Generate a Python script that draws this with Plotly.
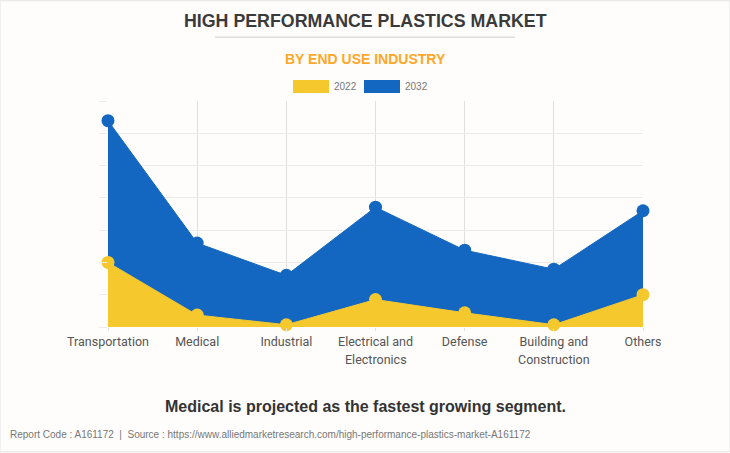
import plotly.graph_objects as go

categories = ["Transportation", "Medical", "Industrial", "Electrical and", "Defense", "Building and", "Others"]
second_lines = ["", "", "", "Electronics", "", "Construction", ""]
values_2022 = [2.0, 0.37, 0.07, 0.85, 0.44, 0.07, 1.0]
values_2032 = [6.39, 2.6, 1.6, 3.71, 2.38, 1.79, 3.6]

YELLOW = "#F5C82E"
BLUE = "#1467C0"
BG = "#FEFDFC"
W, H = 730, 453
LEFT, PLOT_W = 108, 535

fig = go.Figure()

# areas first, dots on top, 2022 sits above 2032
for name, vals, col in [("2032", values_2032, BLUE), ("2022", values_2022, YELLOW)]:
    fig.add_trace(go.Scatter(x=categories, y=vals, mode="lines", fill="tozeroy", fillcolor=col,
                             line=dict(color=col, width=1), showlegend=False, hoverinfo="skip"))
    fig.add_trace(go.Scatter(x=categories, y=vals, mode="markers", name=name, cliponaxis=False,
                             marker=dict(color=col, size=13), showlegend=False))

# legend swatches
for name, col in [("2022", YELLOW), ("2032", BLUE)]:
    fig.add_trace(go.Scatter(x=[None], y=[None], mode="lines", name=name, line=dict(color=col, width=12)))

fig.update_layout(
    width=W, height=H,
    margin=dict(l=LEFT, r=W - LEFT - PLOT_W, t=101, b=125.5),
    paper_bgcolor=BG, plot_bgcolor=BG,
    font=dict(family="Roboto", color="#555"),
    legend=dict(orientation="h", x=(294 - 6 - LEFT) / PLOT_W, xanchor="left", y=1.0, yanchor="bottom",
                itemwidth=36, entrywidth=20, itemclick=False,
                font=dict(family="Liberation Sans", size=10, color="#777"),
                bgcolor="rgba(0,0,0,0)", tracegroupgap=0),
    shapes=[
        dict(type="line", xref="paper", yref="paper", x0=(215 - LEFT) / PLOT_W, x1=(515 - LEFT) / PLOT_W,
             y0=(327.5 - 37) / 226.5, y1=(327.5 - 37) / 226.5, line=dict(color="#cccccc", width=1)),
        dict(type="rect", xref="paper", yref="paper", x0=-LEFT / PLOT_W, x1=(730 - LEFT) / PLOT_W,
             y0=-125 / 226.5, y1=(327.5 - 0.5) / 226.5, line=dict(color="#e4e4e4", width=1)),
    ],
)

fig.update_xaxes(type="category", range=[0, 6], showgrid=True, gridcolor="#e2e0df", gridwidth=1,
                 ticks="outside", ticklen=3, tickcolor="#e2e0df", tickangle=0,
                 tickfont=dict(family="Roboto", size=12.5, color="#555"), zeroline=False, showline=False)
fig.update_yaxes(range=[0, 7], dtick=1, showgrid=True, gridcolor="#ecebea", gridwidth=1,
                 ticks="outside", ticklen=8, tickcolor="#ecebea", showticklabels=False,
                 zeroline=False, showline=False)


def page_text(text, px, py, size, color, bold=False, anchor="center"):
    fig.add_annotation(text="<b>%s</b>" % text if bold else text, xref="paper", yref="paper",
                       x=(px - LEFT) / PLOT_W, y=(327.5 - py) / 226.5, xanchor=anchor, yanchor="middle",
                       showarrow=False, font=dict(family="Liberation Sans", size=size, color=color))


page_text("HIGH PERFORMANCE PLASTICS MARKET", 365.5, 21, 17.8, "#3a3a3a", bold=True)
page_text("BY END USE INDUSTRY", 365, 59, 14, "#FFA726", bold=True)
page_text("Medical is projected as the fastest growing segment.", 365, 407.5, 16, "#333333", bold=True)
page_text("Report Code : A161172  |  Source : https://www.alliedmarketresearch.com/high-performance-plastics-market-A161172",
          8, 435, 10, "#777777", anchor="left")

for cat, line2 in zip(categories, second_lines):
    if line2:
        fig.add_annotation(text=line2, x=cat, xref="x", yref="paper", y=(327.5 - 360) / 226.5, yanchor="middle",
                           showarrow=False, font=dict(family="Roboto", size=12.5, color="#555"))

# legend caps line width at 10, the swatches in the picture are 13 tall
fig.write_html("out.html", config={"displayModeBar": False},
               post_script="document.body.style.margin='0';"
                           "document.querySelectorAll('.legendlines path').forEach(p=>p.style.strokeWidth='13px');")
